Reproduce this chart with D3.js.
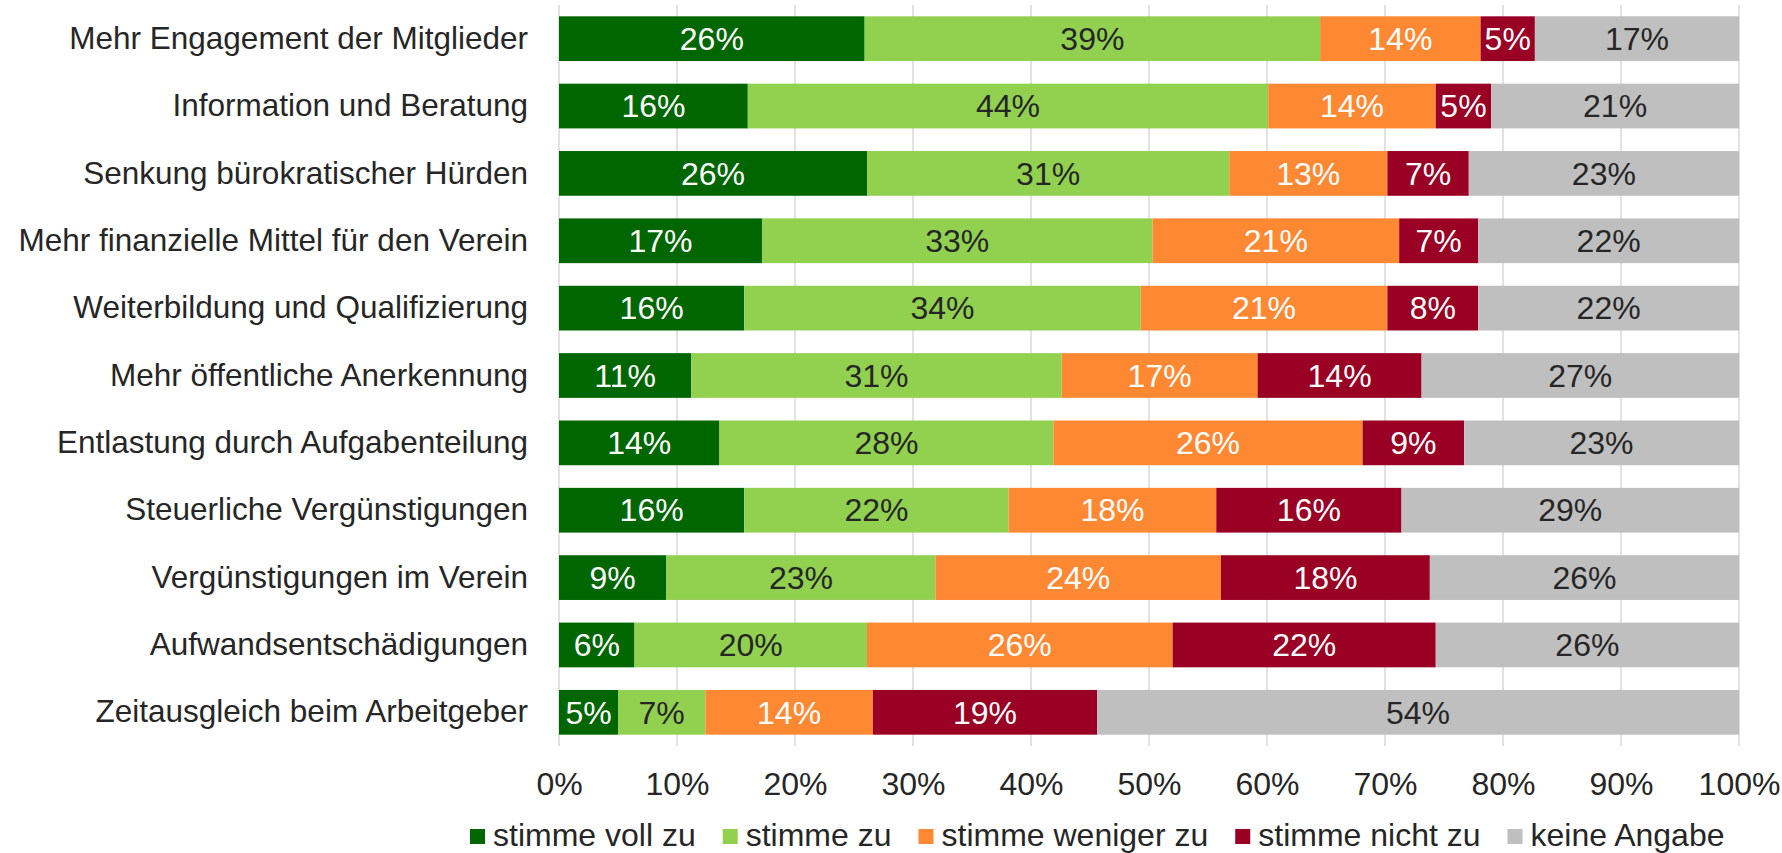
<!DOCTYPE html>
<html>
<head>
<meta charset="utf-8">
<script src="https://cdn.jsdelivr.net/npm/d3@7"></script>
<style>
  body { margin: 0; background: #fff; }
  text { font-family: "Liberation Sans", Arial, sans-serif; }
</style>
</head>
<body>
<div id="chart"></div>
<script>
var categories = [
  "Mehr Engagement der Mitglieder",
  "Information und Beratung",
  "Senkung bürokratischer Hürden",
  "Mehr finanzielle Mittel für den Verein",
  "Weiterbildung und Qualifizierung",
  "Mehr öffentliche Anerkennung",
  "Entlastung durch Aufgabenteilung",
  "Steuerliche Vergünstigungen",
  "Vergünstigungen im Verein",
  "Aufwandsentschädigungen",
  "Zeitausgleich beim Arbeitgeber"
];
var seriesNames = ["stimme voll zu", "stimme zu", "stimme weniger zu", "stimme nicht zu", "keine Angabe"];
var vollZu    = [25.9, 16.0, 26.1, 17.2, 15.7, 11.2, 13.6, 15.7,  9.1,  6.4,  5.0];
var zu        = [38.6, 44.1, 30.7, 33.1, 33.6, 31.4, 28.3, 22.4, 22.8, 19.7,  7.4];
var weniger   = [13.6, 14.2, 13.4, 20.9, 20.9, 16.6, 26.2, 17.6, 24.2, 25.9, 14.2];
var nicht     = [ 4.6,  4.7,  6.9,  6.7,  7.7, 13.9,  8.6, 15.7, 17.7, 22.3, 19.0];
var keine     = [17.3, 21.0, 22.9, 22.1, 22.1, 26.9, 23.3, 28.6, 26.2, 25.7, 54.4];
var colors    = ["#006600", "#92d050", "#ff8833", "#990024", "#bfbfbf"];
var textColors = ["#ffffff", "#262626", "#ffffff", "#ffffff", "#262626"];
var ticks = [0, 10, 20, 30, 40, 50, 60, 70, 80, 90, 100];

var w = 1782, h = 853;
var plotLeft = 559, plotRight = 1739, plotTop = 5, plotBottom = 746;
var fs = 32;

var rows = categories.map(function(c, i) {
  return { cat: c, s0: vollZu[i], s1: zu[i], s2: weniger[i], s3: nicht[i], s4: keine[i] };
});
var keys = ["s0", "s1", "s2", "s3", "s4"];
var stacked = d3.stack().keys(keys)(rows);

var x = d3.scaleLinear().domain([0, 100]).range([plotLeft, plotRight]);
var y = d3.scaleBand().domain(categories).range([plotTop, plotBottom])
  .paddingInner(0.336).paddingOuter(0.168);

var svg = d3.select("#chart").append("svg")
  .attr("width", w).attr("height", h);

// gridlines
svg.append("g").selectAll("line")
  .data(ticks).enter().append("line")
  .attr("x1", function(d) { return x(d); })
  .attr("x2", function(d) { return x(d); })
  .attr("y1", plotTop).attr("y2", plotBottom)
  .attr("stroke", "#d9d9d9").attr("stroke-width", 1.5);

// bars
var layers = svg.selectAll("g.layer")
  .data(stacked).enter().append("g")
  .attr("class", "layer")
  .attr("fill", function(d, i) { return colors[i]; });

layers.selectAll("rect")
  .data(function(d) { return d; })
  .enter().append("rect")
  .attr("x", function(d) { return x(d[0]); })
  .attr("width", function(d) { return x(d[1]) - x(d[0]); })
  .attr("y", function(d) { return y(d.data.cat); })
  .attr("height", y.bandwidth());

// value labels
layers.each(function(layer, li) {
  d3.select(this).selectAll("text")
    .data(layer)
    .enter().append("text")
    .attr("x", function(d) { return (x(d[0]) + x(d[1])) / 2; })
    .attr("y", function(d) { return y(d.data.cat) + y.bandwidth() / 2; })
    .attr("dy", "0.35em")
    .attr("text-anchor", "middle")
    .attr("font-size", fs + "px")
    .attr("fill", textColors[li])
    .text(function(d) { return Math.round(d[1] - d[0]) + "%"; });
});

// category axis
var yAxis = svg.append("g")
  .attr("transform", "translate(" + plotLeft + ",0)")
  .call(d3.axisLeft(y).tickSize(0).tickPadding(31));
yAxis.select(".domain").remove();
yAxis.selectAll("text")
  .attr("font-size", "31.5px")
  .attr("font-family", "Liberation Sans, Arial, sans-serif")
  .attr("fill", "#262626");

// value axis
var xAxis = svg.append("g")
  .attr("transform", "translate(0," + plotBottom + ")")
  .call(d3.axisBottom(x).tickValues(ticks).tickSize(0).tickPadding(26)
    .tickFormat(function(d) { return d + "%"; }));
xAxis.select(".domain").remove();
xAxis.selectAll("text")
  .attr("font-size", fs + "px")
  .attr("font-family", "Liberation Sans, Arial, sans-serif")
  .attr("fill", "#262626");

// legend
var legend = svg.append("g").attr("transform", "translate(470,0)");
var lx = 0;
seriesNames.forEach(function(name, i) {
  var item = legend.append("g").attr("transform", "translate(" + lx + ",0)");
  item.append("rect")
    .attr("x", 0).attr("y", 829)
    .attr("width", 15).attr("height", 15)
    .attr("fill", colors[i]);
  var t = item.append("text")
    .attr("x", 23).attr("y", 846)
    .attr("font-size", fs + "px")
    .attr("fill", "#262626")
    .text(name);
  lx += 23 + t.node().getComputedTextLength() + 27;
});
</script>
</body>
</html>
